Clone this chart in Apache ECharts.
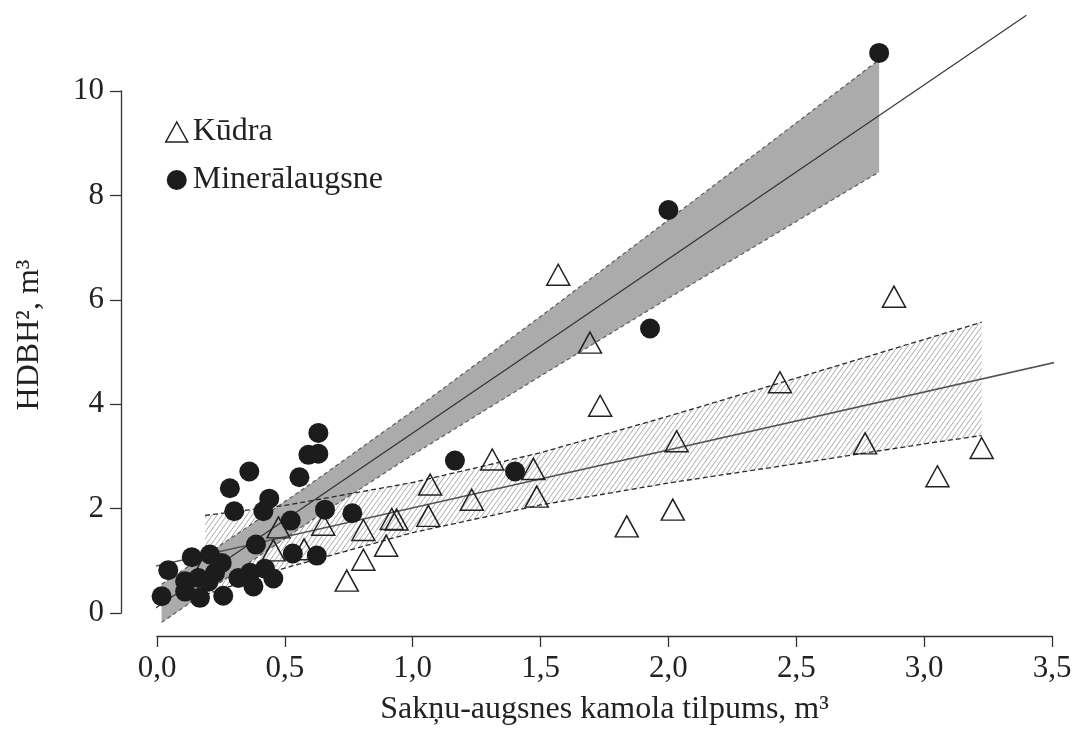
<!DOCTYPE html>
<html>
<head>
<meta charset="utf-8">
<script src="https://cdn.jsdelivr.net/npm/echarts@6/dist/echarts.min.js"></script>
<style>
  html, body { margin: 0; padding: 0; background: #ffffff; }
  #chart { width: 1082px; height: 731px; }
</style>
</head>
<body>
<div id="chart"></div>
<script>
// Tick labels (comma decimal separator)
const xTickLabels = ['0,0', '0,5', '1,0', '1,5', '2,0', '2,5', '3,0', '3,5'];
const yTickLabels = ['0', '2', '4', '6', '8', '10'];

// Kūdra (peat) observations
const kudraX = [0.19, 0.455, 0.475, 0.575, 0.650, 0.742, 0.807, 0.807, 0.896, 0.918,
                0.937, 1.061, 1.068, 1.231, 1.311, 1.472, 1.485, 1.569, 1.693, 1.733,
                1.837, 2.017, 2.032, 2.436, 2.769, 2.882, 3.052, 3.225];
const kudraY = [0.95, 1.20, 1.64, 1.22, 1.69, 0.62, 1.59, 1.02, 1.29, 1.80,
                1.79, 1.86, 2.46, 2.17, 2.94, 2.76, 2.23, 6.48, 5.18, 3.97,
                1.66, 1.98, 3.29, 4.42, 3.25, 6.06, 2.62, 3.16];

// Minerālaugsne (mineral soil) observations
const mineralX = [0.018, 0.044, 0.110, 0.110, 0.136, 0.162, 0.168, 0.201, 0.207, 0.227,
                  0.253, 0.259, 0.285, 0.302, 0.318, 0.361, 0.364, 0.377, 0.387, 0.416,
                  0.422, 0.439, 0.455, 0.523, 0.531, 0.557, 0.592, 0.625, 0.631, 0.631,
                  0.657, 0.764, 1.165, 1.400, 1.928, 2.000, 2.824];
const mineralY = [0.32, 0.82, 0.61, 0.41, 1.07, 0.67, 0.29, 0.60, 1.12, 0.77,
                  0.96, 0.33, 2.39, 1.95, 0.67, 2.71, 0.77, 0.51, 1.31, 1.95,
                  0.85, 2.19, 0.66, 1.77, 1.14, 2.60, 3.03, 1.10, 3.05, 3.45,
                  1.98, 1.91, 2.92, 2.71, 5.45, 7.72, 10.73];

// Fitted regression lines (end points)
const kudraFitX = [-0.14, 3.61];
const kudraFitY = [0.75, 4.91];
const mineralFitX = [-0.142, 3.40];
const mineralFitY = [-0.36, 11.45];

// Confidence bands
const kudraBandX     = [0.188, 0.5, 1.0, 1.5, 2.0, 2.5, 3.0, 3.225];
const kudraBandUpper = [1.87, 2.06, 2.50, 3.07, 3.77, 4.50, 5.24, 5.57];
const kudraBandLower = [0.35, 0.86, 1.54, 2.07, 2.49, 2.86, 3.24, 3.40];
const mineralBandX     = [0.018, 0.3, 0.6, 1.0, 1.5, 2.0, 2.5, 2.824];
const mineralBandUpper = [0.55, 1.47, 2.47, 3.87, 5.68, 7.53, 9.39, 10.60];
const mineralBandLower = [-0.18, 0.76, 1.76, 3.03, 4.54, 6.03, 7.50, 8.45];

const FONT = '"Liberation Serif", "DejaVu Serif", serif';
const INK = '#222222';

function pairs(xs, ys) { return xs.map((x, i) => [x, ys[i]]); }

// Diagonal hatching used for the peat band
function hatchCanvas() {
  const w = 5, h = 7;
  const c = document.createElement('canvas');
  c.width = w; c.height = h;
  const g = c.getContext('2d');
  g.strokeStyle = '#a8a8a8';
  g.lineWidth = 1;
  g.beginPath();
  for (const dx of [-w, 0, w]) { g.moveTo(dx, h); g.lineTo(dx + w, 0); }
  g.stroke();
  return c;
}

function bandSeries(name, xs, upper, lower, fill, z) {
  return {
    type: 'custom',
    name: name,
    z: z,
    silent: true,
    clip: false,
    data: [[xs[0], upper[0]]],
    renderItem: function (params, api) {
      const pts = [];
      for (let i = 0; i < xs.length; i++) pts.push(api.coord([xs[i], upper[i]]));
      for (let i = xs.length - 1; i >= 0; i--) pts.push(api.coord([xs[i], lower[i]]));
      return { type: 'polygon', shape: { points: pts }, style: { fill: fill, stroke: null } };
    }
  };
}

function lineSeries(name, data, color, width, dash, z) {
  return {
    type: 'line', name: name, data: data, z: z, clip: false, silent: true,
    symbol: 'none', showSymbol: false, smooth: false,
    lineStyle: { color: color, width: width, type: dash || 'solid' }
  };
}

const chart = echarts.init(document.getElementById('chart'), null, { renderer: 'canvas' });

chart.setOption({
  animation: false,
  backgroundColor: '#ffffff',
  grid: { left: 157, right: 30, top: 91, bottom: 118, containLabel: false, outerBoundsMode: 'none' },
  legend: {
    orient: 'vertical',
    left: 160, top: 110,
    itemWidth: 22, itemHeight: 20, itemGap: 14,
    textStyle: { fontFamily: FONT, fontSize: 32, color: INK, lineHeight: 34 },
    data: [
      { name: 'Kūdra', icon: 'triangle',
        itemStyle: { color: 'rgba(0,0,0,0)', borderColor: INK, borderWidth: 1.5 } },
      { name: 'Minerālaugsne', icon: 'circle',
        itemStyle: { color: '#1c1c1c', borderWidth: 0 } }
    ]
  },
  // y-axis title, centred on the whole plotting region
  graphic: [{
    type: 'text',
    x: 30, y: 335,
    rotation: Math.PI / 2,
    style: {
      text: 'HDBH², m³',
      fontFamily: FONT, fontSize: 32, fill: INK,
      align: 'center', verticalAlign: 'middle'
    }
  }],
  xAxis: {
    type: 'value', min: 0, max: 3.5, interval: 0.5,
    offset: 23,
    name: 'Sakņu-augsnes kamola tilpums, m³',
    nameLocation: 'middle', nameGap: 58,
    nameTextStyle: { fontFamily: FONT, fontSize: 32, color: INK },
    axisLine: { show: true, onZero: false, lineStyle: { color: '#333', width: 1.3 } },
    axisTick: { show: true, inside: false, length: 11, lineStyle: { color: '#333', width: 1.3 } },
    axisLabel: {
      fontFamily: FONT, fontSize: 31, color: INK, margin: 17,
      formatter: v => xTickLabels[Math.round(v / 0.5)]
    },
    splitLine: { show: false }
  },
  yAxis: {
    type: 'value', min: 0, max: 10, interval: 2,
    offset: 36,
    axisLine: { show: true, onZero: false, lineStyle: { color: '#333', width: 1.3 } },
    axisTick: { show: true, inside: false, length: 11, lineStyle: { color: '#333', width: 1.3 } },
    axisLabel: {
      fontFamily: FONT, fontSize: 31, color: INK, margin: 17,
      formatter: v => yTickLabels[Math.round(v / 2)]
    },
    splitLine: { show: false }
  },
  series: [
    bandSeries('kudraBand', kudraBandX, kudraBandUpper, kudraBandLower,
               { image: hatchCanvas(), repeat: 'repeat' }, 1),
    bandSeries('mineralBand', mineralBandX, mineralBandUpper, mineralBandLower, '#ababab', 2),
    lineSeries('kudraUpper', pairs(kudraBandX, kudraBandUpper), '#2a2a2a', 1.3, [5, 3], 3),
    lineSeries('kudraLower', pairs(kudraBandX, kudraBandLower), '#2a2a2a', 1.3, [5, 3], 3),
    lineSeries('mineralUpper', pairs(mineralBandX, mineralBandUpper), '#555555', 1.1, [4, 3], 3),
    lineSeries('mineralLower', pairs(mineralBandX, mineralBandLower), '#555555', 1.1, [4, 3], 3),
    lineSeries('kudraFit', pairs(kudraFitX, kudraFitY), '#555555', 1.5, null, 4),
    lineSeries('mineralFit', pairs(mineralFitX, mineralFitY), '#333333', 1.1, null, 4),
    {
      type: 'scatter', name: 'Kūdra', z: 5, clip: false,
      data: pairs(kudraX, kudraY),
      symbol: 'triangle', symbolSize: [23, 21],
      itemStyle: { color: 'rgba(0,0,0,0)', borderColor: INK, borderWidth: 1.5, opacity: 1 }
    },
    {
      type: 'scatter', name: 'Minerālaugsne', z: 6, clip: false,
      data: pairs(mineralX, mineralY),
      symbol: 'circle', symbolSize: 20,
      itemStyle: { color: '#1c1c1c', opacity: 1 }
    }
  ]
});
</script>
</body>
</html>
